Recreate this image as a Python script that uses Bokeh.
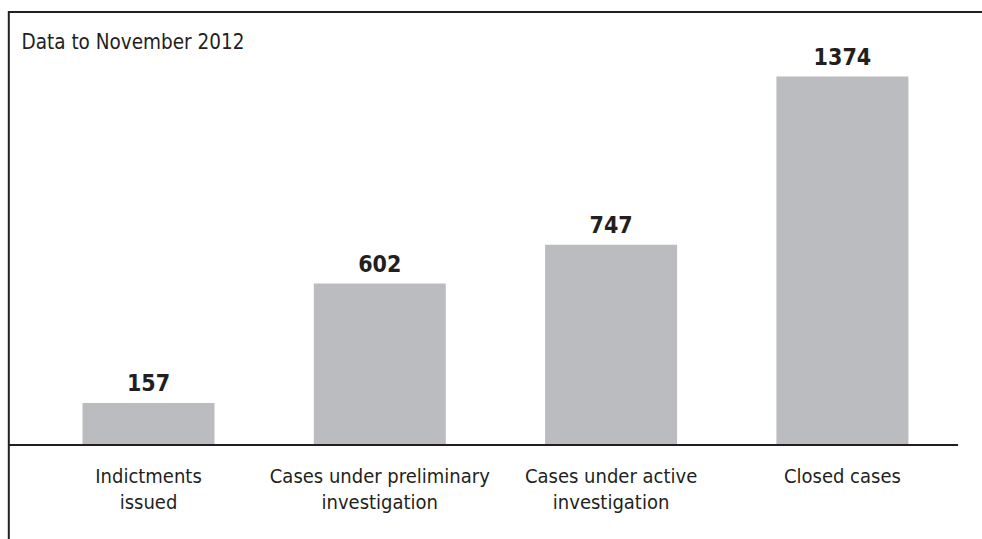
import numpy as np
from bokeh.plotting import figure
from bokeh.models import Range1d, Label, ColumnDataSource
from bokeh.core.properties import value
from bokeh.embed import file_html
from bokeh.resources import INLINE

# ---- data ----
categories = ["Indictments\nissued",
              "Cases under preliminary\ninvestigation",
              "Cases under active\ninvestigation",
              "Closed cases"]
counts = [157, 602, 747, 1374]
value_labels = ["157", "602", "747", "1374"]
note = "Data to November 2012"

# ---- layout constants (pixels) ----
W, H = 982, 539
x0_px, dx_px = 148.0, 231.3      # first bar centre, spacing
base_px, py_per_unit = 444.5, 0.2682

x_start = -x0_px / dx_px
x_end = (W - x0_px) / dx_px
y_end = base_px / py_per_unit
y_start = -(H - base_px) / py_per_unit

FONT = "DejaVu Sans Condensed"
INK = "#231f20"
BAR = "#bbbcc0"

p = figure(width=W, height=H, output_backend="svg", toolbar_location=None,
           x_range=Range1d(x_start, x_end), y_range=Range1d(y_start, y_end),
           min_border=0, min_border_left=0, min_border_right=0,
           min_border_top=0, min_border_bottom=0)
p.axis.visible = False
p.grid.visible = False
p.outline_line_color = None
p.background_fill_color = "white"
p.border_fill_color = "white"

idx = np.arange(len(categories))
src = ColumnDataSource(dict(x=idx, top=counts, lab=value_labels, cat=categories))

p.vbar(x="x", top="top", bottom=0, width=0.5707, source=src,
       fill_color=BAR, line_color=None)

# frame lines (left and top border)
left_x = (8.3 - x0_px) / dx_px
top_y = (base_px - 11.5) / py_per_unit
p.line(x=[left_x, left_x, x_end + 1], y=[y_start - 100, top_y, top_y],
       line_color=INK, line_width=2, line_join="miter")
# baseline
p.line(x=[left_x, len(categories) - 0.5], y=[0, 0],
       line_color=INK, line_width=2.2)

# value labels
p.text(x="x", y="top", text="lab", source=src, text_align="center",
       text_baseline="alphabetic", y_offset=-20,
       text_font=value(FONT), text_font_style="bold",
       text_font_size="23px", text_color=INK)

# category labels
p.text(x="x", y=0, text="cat", source=src, text_align="center",
       text_baseline="top", y_offset=19,
       text_font=value(FONT), text_font_size="20px",
       text_line_height=1.1, text_color=INK)

p.add_layout(Label(x=21, y=H - 41, x_units="screen", y_units="screen",
                   text=note, text_baseline="alphabetic",
                   text_font=FONT, text_font_size="20.5px", text_color=INK))

open("out.html", "w").write(file_html(p, INLINE))
